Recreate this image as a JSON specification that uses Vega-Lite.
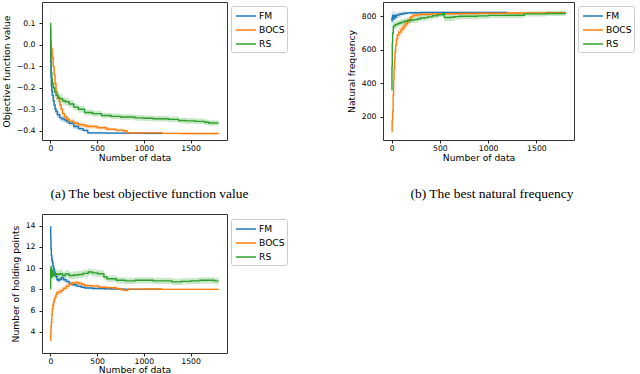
{
  "$schema": "https://vega.github.io/schema/vega-lite/v6.json",
  "background": "white",
  "padding": {"left": 1, "top": 1, "right": 0, "bottom": 0},
  "config": {
    "view": {"stroke": "#333333", "strokeWidth": 1},
    "axis": {"labelFont": "DejaVu Sans", "labelFontSize": 7.7, "titleFont": "DejaVu Sans", "titleFontSize": 9.2, "titleFontWeight": "normal", "labelColor": "black", "titleColor": "black", "tickColor": "#222222", "tickSize": 3, "domain": false, "grid": false},
    "axisX": {"labelPadding": 1, "titlePadding": 2},
    "axisY": {"labelPadding": 4, "titlePadding": 5},
    "legend": {"labelFont": "DejaVu Sans", "labelFontSize": 9.2, "labelColor": "black", "title": null, "orient": "none", "direction": "vertical", "symbolType": "M-1.45,0H1.45", "symbolSize": 188, "symbolStrokeWidth": 1.5, "symbolOpacity": 1, "symbolOffset": 5, "fillColor": "white", "strokeColor": "#cccccc", "cornerRadius": 2, "padding": 2, "rowPadding": 0, "labelOffset": 5}
  },
  "datasets": {
    "a": [
      {"n": 0, "m": "FM", "v": 0.01, "lo": -0.02, "hi": 0.04},
      {"n": 3, "m": "FM", "v": -0.08, "lo": -0.11, "hi": -0.05},
      {"n": 6, "m": "FM", "v": -0.15, "lo": -0.175, "hi": -0.125},
      {"n": 10, "m": "FM", "v": -0.19, "lo": -0.215, "hi": -0.165},
      {"n": 15, "m": "FM", "v": -0.215, "lo": -0.235, "hi": -0.195},
      {"n": 20, "m": "FM", "v": -0.235, "lo": -0.255, "hi": -0.215},
      {"n": 30, "m": "FM", "v": -0.26, "lo": -0.28, "hi": -0.24},
      {"n": 40, "m": "FM", "v": -0.28, "lo": -0.3, "hi": -0.26},
      {"n": 50, "m": "FM", "v": -0.3, "lo": -0.318, "hi": -0.282},
      {"n": 60, "m": "FM", "v": -0.31, "lo": -0.327, "hi": -0.293},
      {"n": 75, "m": "FM", "v": -0.325, "lo": -0.34, "hi": -0.31},
      {"n": 100, "m": "FM", "v": -0.34, "lo": -0.355, "hi": -0.325},
      {"n": 125, "m": "FM", "v": -0.345, "lo": -0.359, "hi": -0.331},
      {"n": 150, "m": "FM", "v": -0.35, "lo": -0.363, "hi": -0.337},
      {"n": 175, "m": "FM", "v": -0.357, "lo": -0.369, "hi": -0.345},
      {"n": 200, "m": "FM", "v": -0.365, "lo": -0.377, "hi": -0.353},
      {"n": 250, "m": "FM", "v": -0.38, "lo": -0.391, "hi": -0.369},
      {"n": 300, "m": "FM", "v": -0.39, "lo": -0.4, "hi": -0.38},
      {"n": 350, "m": "FM", "v": -0.398, "lo": -0.407, "hi": -0.389},
      {"n": 400, "m": "FM", "v": -0.41, "lo": -0.416, "hi": -0.404},
      {"n": 600, "m": "FM", "v": -0.411, "lo": -0.416, "hi": -0.406},
      {"n": 800, "m": "FM", "v": -0.411, "lo": -0.416, "hi": -0.406},
      {"n": 1000, "m": "FM", "v": -0.412, "lo": -0.417, "hi": -0.407},
      {"n": 1200, "m": "FM", "v": -0.412, "lo": -0.417, "hi": -0.407},
      {"n": 0, "m": "BOCS", "v": 0.07, "lo": 0.04, "hi": 0.1},
      {"n": 5, "m": "BOCS", "v": 0.02, "lo": -0.005, "hi": 0.045},
      {"n": 10, "m": "BOCS", "v": -0.02, "lo": -0.045, "hi": 0.005},
      {"n": 20, "m": "BOCS", "v": -0.06, "lo": -0.085, "hi": -0.035},
      {"n": 30, "m": "BOCS", "v": -0.1, "lo": -0.125, "hi": -0.075},
      {"n": 40, "m": "BOCS", "v": -0.14, "lo": -0.162, "hi": -0.118},
      {"n": 50, "m": "BOCS", "v": -0.18, "lo": -0.2, "hi": -0.16},
      {"n": 60, "m": "BOCS", "v": -0.22, "lo": -0.24, "hi": -0.2},
      {"n": 75, "m": "BOCS", "v": -0.25, "lo": -0.268, "hi": -0.232},
      {"n": 100, "m": "BOCS", "v": -0.28, "lo": -0.296, "hi": -0.264},
      {"n": 115, "m": "BOCS", "v": -0.3, "lo": -0.315, "hi": -0.285},
      {"n": 130, "m": "BOCS", "v": -0.32, "lo": -0.334, "hi": -0.306},
      {"n": 150, "m": "BOCS", "v": -0.335, "lo": -0.348, "hi": -0.322},
      {"n": 175, "m": "BOCS", "v": -0.345, "lo": -0.357, "hi": -0.333},
      {"n": 200, "m": "BOCS", "v": -0.355, "lo": -0.366, "hi": -0.344},
      {"n": 250, "m": "BOCS", "v": -0.365, "lo": -0.375, "hi": -0.355},
      {"n": 300, "m": "BOCS", "v": -0.372, "lo": -0.382, "hi": -0.362},
      {"n": 366, "m": "BOCS", "v": -0.378, "lo": -0.387, "hi": -0.369},
      {"n": 400, "m": "BOCS", "v": -0.38, "lo": -0.389, "hi": -0.371},
      {"n": 500, "m": "BOCS", "v": -0.386, "lo": -0.394, "hi": -0.378},
      {"n": 600, "m": "BOCS", "v": -0.393, "lo": -0.4, "hi": -0.386},
      {"n": 700, "m": "BOCS", "v": -0.397, "lo": -0.404, "hi": -0.39},
      {"n": 780, "m": "BOCS", "v": -0.4, "lo": -0.406, "hi": -0.394},
      {"n": 820, "m": "BOCS", "v": -0.409, "lo": -0.414, "hi": -0.404},
      {"n": 900, "m": "BOCS", "v": -0.41, "lo": -0.415, "hi": -0.405},
      {"n": 1000, "m": "BOCS", "v": -0.41, "lo": -0.415, "hi": -0.405},
      {"n": 1200, "m": "BOCS", "v": -0.412, "lo": -0.416, "hi": -0.408},
      {"n": 1400, "m": "BOCS", "v": -0.413, "lo": -0.417, "hi": -0.409},
      {"n": 1800, "m": "BOCS", "v": -0.414, "lo": -0.418, "hi": -0.41},
      {"n": 0, "m": "RS", "v": 0.1, "lo": 0.03, "hi": 0.17},
      {"n": 3, "m": "RS", "v": 0.0, "lo": -0.05, "hi": 0.05},
      {"n": 6, "m": "RS", "v": -0.08, "lo": -0.12, "hi": -0.04},
      {"n": 10, "m": "RS", "v": -0.13, "lo": -0.165, "hi": -0.095},
      {"n": 15, "m": "RS", "v": -0.16, "lo": -0.19, "hi": -0.13},
      {"n": 20, "m": "RS", "v": -0.18, "lo": -0.21, "hi": -0.15},
      {"n": 30, "m": "RS", "v": -0.2, "lo": -0.225, "hi": -0.175},
      {"n": 45, "m": "RS", "v": -0.22, "lo": -0.245, "hi": -0.195},
      {"n": 60, "m": "RS", "v": -0.235, "lo": -0.258, "hi": -0.212},
      {"n": 80, "m": "RS", "v": -0.245, "lo": -0.267, "hi": -0.223},
      {"n": 100, "m": "RS", "v": -0.25, "lo": -0.27, "hi": -0.23},
      {"n": 130, "m": "RS", "v": -0.26, "lo": -0.279, "hi": -0.241},
      {"n": 160, "m": "RS", "v": -0.265, "lo": -0.283, "hi": -0.247},
      {"n": 200, "m": "RS", "v": -0.275, "lo": -0.292, "hi": -0.258},
      {"n": 250, "m": "RS", "v": -0.29, "lo": -0.306, "hi": -0.274},
      {"n": 300, "m": "RS", "v": -0.3, "lo": -0.315, "hi": -0.285},
      {"n": 366, "m": "RS", "v": -0.315, "lo": -0.329, "hi": -0.301},
      {"n": 450, "m": "RS", "v": -0.32, "lo": -0.333, "hi": -0.307},
      {"n": 546, "m": "RS", "v": -0.329, "lo": -0.342, "hi": -0.316},
      {"n": 650, "m": "RS", "v": -0.333, "lo": -0.346, "hi": -0.32},
      {"n": 750, "m": "RS", "v": -0.336, "lo": -0.349, "hi": -0.323},
      {"n": 904, "m": "RS", "v": -0.34, "lo": -0.353, "hi": -0.327},
      {"n": 1000, "m": "RS", "v": -0.342, "lo": -0.355, "hi": -0.329},
      {"n": 1100, "m": "RS", "v": -0.344, "lo": -0.357, "hi": -0.331},
      {"n": 1264, "m": "RS", "v": -0.347, "lo": -0.36, "hi": -0.334},
      {"n": 1371, "m": "RS", "v": -0.352, "lo": -0.365, "hi": -0.339},
      {"n": 1450, "m": "RS", "v": -0.354, "lo": -0.367, "hi": -0.341},
      {"n": 1550, "m": "RS", "v": -0.356, "lo": -0.369, "hi": -0.343},
      {"n": 1650, "m": "RS", "v": -0.36, "lo": -0.373, "hi": -0.347},
      {"n": 1694, "m": "RS", "v": -0.364, "lo": -0.377, "hi": -0.351},
      {"n": 1800, "m": "RS", "v": -0.364, "lo": -0.377, "hi": -0.351}
    ],
    "b": [
      {"n": 0, "m": "FM", "v": 770, "lo": 725, "hi": 815},
      {"n": 3, "m": "FM", "v": 790, "lo": 750, "hi": 830},
      {"n": 6, "m": "FM", "v": 780, "lo": 740, "hi": 820},
      {"n": 10, "m": "FM", "v": 805, "lo": 770, "hi": 840},
      {"n": 15, "m": "FM", "v": 790, "lo": 758, "hi": 822},
      {"n": 20, "m": "FM", "v": 800, "lo": 770, "hi": 830},
      {"n": 25, "m": "FM", "v": 785, "lo": 757, "hi": 813},
      {"n": 30, "m": "FM", "v": 805, "lo": 780, "hi": 830},
      {"n": 40, "m": "FM", "v": 795, "lo": 772, "hi": 818},
      {"n": 50, "m": "FM", "v": 806, "lo": 786, "hi": 826},
      {"n": 60, "m": "FM", "v": 808, "lo": 790, "hi": 826},
      {"n": 80, "m": "FM", "v": 812, "lo": 797, "hi": 827},
      {"n": 100, "m": "FM", "v": 815, "lo": 802, "hi": 828},
      {"n": 130, "m": "FM", "v": 818, "lo": 808, "hi": 828},
      {"n": 160, "m": "FM", "v": 820, "lo": 812, "hi": 828},
      {"n": 200, "m": "FM", "v": 821, "lo": 814, "hi": 828},
      {"n": 300, "m": "FM", "v": 822, "lo": 816, "hi": 828},
      {"n": 600, "m": "FM", "v": 822, "lo": 817, "hi": 827},
      {"n": 900, "m": "FM", "v": 823, "lo": 818, "hi": 828},
      {"n": 1200, "m": "FM", "v": 823, "lo": 818, "hi": 828},
      {"n": 0, "m": "BOCS", "v": 115, "lo": 90, "hi": 140},
      {"n": 5, "m": "BOCS", "v": 180, "lo": 150, "hi": 210},
      {"n": 10, "m": "BOCS", "v": 234, "lo": 200, "hi": 268},
      {"n": 15, "m": "BOCS", "v": 330, "lo": 295, "hi": 365},
      {"n": 20, "m": "BOCS", "v": 420, "lo": 385, "hi": 455},
      {"n": 25, "m": "BOCS", "v": 490, "lo": 455, "hi": 525},
      {"n": 30, "m": "BOCS", "v": 540, "lo": 505, "hi": 575},
      {"n": 35, "m": "BOCS", "v": 590, "lo": 555, "hi": 625},
      {"n": 41, "m": "BOCS", "v": 628, "lo": 595, "hi": 661},
      {"n": 50, "m": "BOCS", "v": 665, "lo": 633, "hi": 697},
      {"n": 59, "m": "BOCS", "v": 688, "lo": 656, "hi": 720},
      {"n": 75, "m": "BOCS", "v": 705, "lo": 673, "hi": 737},
      {"n": 93, "m": "BOCS", "v": 717, "lo": 687, "hi": 747},
      {"n": 110, "m": "BOCS", "v": 730, "lo": 702, "hi": 758},
      {"n": 128, "m": "BOCS", "v": 743, "lo": 717, "hi": 769},
      {"n": 145, "m": "BOCS", "v": 755, "lo": 731, "hi": 779},
      {"n": 162, "m": "BOCS", "v": 766, "lo": 744, "hi": 788},
      {"n": 180, "m": "BOCS", "v": 780, "lo": 760, "hi": 800},
      {"n": 197, "m": "BOCS", "v": 796, "lo": 780, "hi": 812},
      {"n": 215, "m": "BOCS", "v": 802, "lo": 788, "hi": 816},
      {"n": 231, "m": "BOCS", "v": 806, "lo": 794, "hi": 818},
      {"n": 260, "m": "BOCS", "v": 808, "lo": 797, "hi": 819},
      {"n": 300, "m": "BOCS", "v": 812, "lo": 802, "hi": 822},
      {"n": 400, "m": "BOCS", "v": 814, "lo": 805, "hi": 823},
      {"n": 500, "m": "BOCS", "v": 815, "lo": 807, "hi": 823},
      {"n": 600, "m": "BOCS", "v": 815, "lo": 807, "hi": 823},
      {"n": 700, "m": "BOCS", "v": 816, "lo": 808, "hi": 824},
      {"n": 800, "m": "BOCS", "v": 816, "lo": 808, "hi": 824},
      {"n": 900, "m": "BOCS", "v": 818, "lo": 811, "hi": 825},
      {"n": 1000, "m": "BOCS", "v": 818, "lo": 811, "hi": 825},
      {"n": 1200, "m": "BOCS", "v": 819, "lo": 812, "hi": 826},
      {"n": 1400, "m": "BOCS", "v": 820, "lo": 813, "hi": 827},
      {"n": 1600, "m": "BOCS", "v": 821, "lo": 814, "hi": 828},
      {"n": 1800, "m": "BOCS", "v": 822, "lo": 815, "hi": 829},
      {"n": 0, "m": "RS", "v": 362, "lo": 340, "hi": 384},
      {"n": 3, "m": "RS", "v": 500, "lo": 470, "hi": 530},
      {"n": 6, "m": "RS", "v": 640, "lo": 610, "hi": 670},
      {"n": 10, "m": "RS", "v": 700, "lo": 675, "hi": 725},
      {"n": 17, "m": "RS", "v": 737, "lo": 715, "hi": 759},
      {"n": 25, "m": "RS", "v": 745, "lo": 724, "hi": 766},
      {"n": 40, "m": "RS", "v": 750, "lo": 730, "hi": 770},
      {"n": 60, "m": "RS", "v": 755, "lo": 736, "hi": 774},
      {"n": 76, "m": "RS", "v": 760, "lo": 741, "hi": 779},
      {"n": 100, "m": "RS", "v": 765, "lo": 747, "hi": 783},
      {"n": 131, "m": "RS", "v": 770, "lo": 752, "hi": 788},
      {"n": 162, "m": "RS", "v": 775, "lo": 757, "hi": 793},
      {"n": 200, "m": "RS", "v": 778, "lo": 760, "hi": 796},
      {"n": 231, "m": "RS", "v": 780, "lo": 762, "hi": 798},
      {"n": 270, "m": "RS", "v": 785, "lo": 768, "hi": 802},
      {"n": 300, "m": "RS", "v": 790, "lo": 773, "hi": 807},
      {"n": 340, "m": "RS", "v": 792, "lo": 775, "hi": 809},
      {"n": 373, "m": "RS", "v": 796, "lo": 780, "hi": 812},
      {"n": 420, "m": "RS", "v": 803, "lo": 787, "hi": 819},
      {"n": 477, "m": "RS", "v": 809, "lo": 794, "hi": 824},
      {"n": 529, "m": "RS", "v": 815, "lo": 800, "hi": 830},
      {"n": 546, "m": "RS", "v": 793, "lo": 770, "hi": 816},
      {"n": 612, "m": "RS", "v": 794, "lo": 772, "hi": 816},
      {"n": 650, "m": "RS", "v": 798, "lo": 779, "hi": 817},
      {"n": 700, "m": "RS", "v": 800, "lo": 782, "hi": 818},
      {"n": 891, "m": "RS", "v": 802, "lo": 785, "hi": 819},
      {"n": 1000, "m": "RS", "v": 805, "lo": 789, "hi": 821},
      {"n": 1200, "m": "RS", "v": 806, "lo": 790, "hi": 822},
      {"n": 1375, "m": "RS", "v": 814, "lo": 799, "hi": 829},
      {"n": 1600, "m": "RS", "v": 816, "lo": 801, "hi": 831},
      {"n": 1800, "m": "RS", "v": 820, "lo": 805, "hi": 835}
    ],
    "c": [
      {"n": 0, "m": "FM", "v": 13.9, "lo": 13.3, "hi": 14.5},
      {"n": 3, "m": "FM", "v": 12.8, "lo": 12.2, "hi": 13.4},
      {"n": 6, "m": "FM", "v": 11.8, "lo": 11.25, "hi": 12.35},
      {"n": 10, "m": "FM", "v": 11.2, "lo": 10.7, "hi": 11.7},
      {"n": 15, "m": "FM", "v": 10.8, "lo": 10.35, "hi": 11.25},
      {"n": 20, "m": "FM", "v": 10.6, "lo": 10.15, "hi": 11.05},
      {"n": 27, "m": "FM", "v": 10.2, "lo": 9.8, "hi": 10.6},
      {"n": 34, "m": "FM", "v": 9.94, "lo": 9.56, "hi": 10.32},
      {"n": 42, "m": "FM", "v": 9.6, "lo": 9.25, "hi": 9.95},
      {"n": 50, "m": "FM", "v": 9.47, "lo": 9.14, "hi": 9.8},
      {"n": 60, "m": "FM", "v": 9.2, "lo": 8.9, "hi": 9.5},
      {"n": 70, "m": "FM", "v": 8.9, "lo": 8.62, "hi": 9.18},
      {"n": 84, "m": "FM", "v": 8.85, "lo": 8.58, "hi": 9.12},
      {"n": 100, "m": "FM", "v": 8.95, "lo": 8.7, "hi": 9.2},
      {"n": 118, "m": "FM", "v": 9.1, "lo": 8.86, "hi": 9.34},
      {"n": 140, "m": "FM", "v": 8.9, "lo": 8.68, "hi": 9.12},
      {"n": 168, "m": "FM", "v": 8.75, "lo": 8.55, "hi": 8.95},
      {"n": 200, "m": "FM", "v": 8.55, "lo": 8.37, "hi": 8.73},
      {"n": 235, "m": "FM", "v": 8.43, "lo": 8.26, "hi": 8.6},
      {"n": 280, "m": "FM", "v": 8.3, "lo": 8.15, "hi": 8.45},
      {"n": 330, "m": "FM", "v": 8.2, "lo": 8.07, "hi": 8.33},
      {"n": 370, "m": "FM", "v": 8.12, "lo": 8.0, "hi": 8.24},
      {"n": 450, "m": "FM", "v": 8.08, "lo": 7.98, "hi": 8.18},
      {"n": 572, "m": "FM", "v": 8.05, "lo": 7.96, "hi": 8.14},
      {"n": 650, "m": "FM", "v": 8.02, "lo": 7.94, "hi": 8.1},
      {"n": 800, "m": "FM", "v": 8.0, "lo": 7.93, "hi": 8.07},
      {"n": 1000, "m": "FM", "v": 8.0, "lo": 7.94, "hi": 8.06},
      {"n": 1200, "m": "FM", "v": 8.0, "lo": 7.94, "hi": 8.06},
      {"n": 0, "m": "BOCS", "v": 3.19, "lo": 2.7, "hi": 3.7},
      {"n": 3, "m": "BOCS", "v": 3.8, "lo": 3.3, "hi": 4.3},
      {"n": 6, "m": "BOCS", "v": 4.4, "lo": 3.9, "hi": 4.9},
      {"n": 10, "m": "BOCS", "v": 4.9, "lo": 4.4, "hi": 5.4},
      {"n": 15, "m": "BOCS", "v": 5.6, "lo": 5.1, "hi": 6.1},
      {"n": 20, "m": "BOCS", "v": 6.17, "lo": 5.7, "hi": 6.64},
      {"n": 27, "m": "BOCS", "v": 6.5, "lo": 6.05, "hi": 6.95},
      {"n": 34, "m": "BOCS", "v": 6.8, "lo": 6.38, "hi": 7.22},
      {"n": 42, "m": "BOCS", "v": 7.1, "lo": 6.7, "hi": 7.5},
      {"n": 50, "m": "BOCS", "v": 7.27, "lo": 6.9, "hi": 7.64},
      {"n": 60, "m": "BOCS", "v": 7.5, "lo": 7.15, "hi": 7.85},
      {"n": 70, "m": "BOCS", "v": 7.7, "lo": 7.37, "hi": 8.03},
      {"n": 84, "m": "BOCS", "v": 7.74, "lo": 7.43, "hi": 8.05},
      {"n": 100, "m": "BOCS", "v": 7.8, "lo": 7.5, "hi": 8.1},
      {"n": 118, "m": "BOCS", "v": 7.9, "lo": 7.62, "hi": 8.18},
      {"n": 140, "m": "BOCS", "v": 8.1, "lo": 7.84, "hi": 8.36},
      {"n": 168, "m": "BOCS", "v": 8.3, "lo": 8.06, "hi": 8.54},
      {"n": 200, "m": "BOCS", "v": 8.5, "lo": 8.28, "hi": 8.72},
      {"n": 235, "m": "BOCS", "v": 8.6, "lo": 8.4, "hi": 8.8},
      {"n": 270, "m": "BOCS", "v": 8.65, "lo": 8.46, "hi": 8.84},
      {"n": 300, "m": "BOCS", "v": 8.55, "lo": 8.37, "hi": 8.73},
      {"n": 340, "m": "BOCS", "v": 8.45, "lo": 8.28, "hi": 8.62},
      {"n": 370, "m": "BOCS", "v": 8.35, "lo": 8.19, "hi": 8.51},
      {"n": 450, "m": "BOCS", "v": 8.3, "lo": 8.15, "hi": 8.45},
      {"n": 520, "m": "BOCS", "v": 8.2, "lo": 8.06, "hi": 8.34},
      {"n": 600, "m": "BOCS", "v": 8.15, "lo": 8.02, "hi": 8.28},
      {"n": 706, "m": "BOCS", "v": 8.05, "lo": 7.93, "hi": 8.17},
      {"n": 760, "m": "BOCS", "v": 7.95, "lo": 7.83, "hi": 8.07},
      {"n": 800, "m": "BOCS", "v": 7.9, "lo": 7.78, "hi": 8.02},
      {"n": 830, "m": "BOCS", "v": 8.02, "lo": 7.93, "hi": 8.11},
      {"n": 1000, "m": "BOCS", "v": 8.03, "lo": 7.95, "hi": 8.11},
      {"n": 1180, "m": "BOCS", "v": 8.0, "lo": 7.93, "hi": 8.07},
      {"n": 1500, "m": "BOCS", "v": 8.0, "lo": 7.93, "hi": 8.07},
      {"n": 1800, "m": "BOCS", "v": 8.0, "lo": 7.93, "hi": 8.07},
      {"n": 0, "m": "RS", "v": 8.06, "lo": 7.2, "hi": 8.9},
      {"n": 3, "m": "RS", "v": 9.9, "lo": 9.2, "hi": 10.6},
      {"n": 6, "m": "RS", "v": 10.1, "lo": 9.45, "hi": 10.75},
      {"n": 10, "m": "RS", "v": 9.6, "lo": 9.0, "hi": 10.2},
      {"n": 15, "m": "RS", "v": 9.16, "lo": 8.6, "hi": 9.72},
      {"n": 20, "m": "RS", "v": 9.8, "lo": 9.3, "hi": 10.3},
      {"n": 27, "m": "RS", "v": 9.4, "lo": 8.92, "hi": 9.88},
      {"n": 34, "m": "RS", "v": 9.3, "lo": 8.85, "hi": 9.75},
      {"n": 50, "m": "RS", "v": 9.47, "lo": 9.05, "hi": 9.89},
      {"n": 70, "m": "RS", "v": 9.4, "lo": 9.0, "hi": 9.8},
      {"n": 100, "m": "RS", "v": 9.47, "lo": 9.08, "hi": 9.86},
      {"n": 130, "m": "RS", "v": 9.3, "lo": 8.93, "hi": 9.67},
      {"n": 160, "m": "RS", "v": 9.45, "lo": 9.09, "hi": 9.81},
      {"n": 200, "m": "RS", "v": 9.3, "lo": 8.95, "hi": 9.65},
      {"n": 250, "m": "RS", "v": 9.35, "lo": 9.0, "hi": 9.7},
      {"n": 300, "m": "RS", "v": 9.4, "lo": 9.06, "hi": 9.74},
      {"n": 350, "m": "RS", "v": 9.5, "lo": 9.16, "hi": 9.84},
      {"n": 404, "m": "RS", "v": 9.63, "lo": 9.3, "hi": 9.96},
      {"n": 450, "m": "RS", "v": 9.55, "lo": 9.22, "hi": 9.88},
      {"n": 504, "m": "RS", "v": 9.47, "lo": 9.15, "hi": 9.79},
      {"n": 572, "m": "RS", "v": 9.16, "lo": 8.85, "hi": 9.47},
      {"n": 605, "m": "RS", "v": 9.0, "lo": 8.7, "hi": 9.3},
      {"n": 706, "m": "RS", "v": 8.85, "lo": 8.55, "hi": 9.15},
      {"n": 800, "m": "RS", "v": 8.8, "lo": 8.5, "hi": 9.1},
      {"n": 908, "m": "RS", "v": 8.85, "lo": 8.55, "hi": 9.15},
      {"n": 1000, "m": "RS", "v": 8.85, "lo": 8.55, "hi": 9.15},
      {"n": 1100, "m": "RS", "v": 8.8, "lo": 8.5, "hi": 9.1},
      {"n": 1200, "m": "RS", "v": 8.8, "lo": 8.5, "hi": 9.1},
      {"n": 1300, "m": "RS", "v": 8.7, "lo": 8.4, "hi": 9.0},
      {"n": 1400, "m": "RS", "v": 8.75, "lo": 8.45, "hi": 9.05},
      {"n": 1500, "m": "RS", "v": 8.8, "lo": 8.5, "hi": 9.1},
      {"n": 1600, "m": "RS", "v": 8.85, "lo": 8.55, "hi": 9.15},
      {"n": 1700, "m": "RS", "v": 8.85, "lo": 8.55, "hi": 9.15},
      {"n": 1750, "m": "RS", "v": 8.8, "lo": 8.5, "hi": 9.1},
      {"n": 1800, "m": "RS", "v": 8.8, "lo": 8.5, "hi": 9.1}
    ]
  },
  "spacing": 12,
  "resolve": {"scale": {"x": "independent", "y": "independent", "color": "independent"}, "legend": {"color": "independent"}},
  "vconcat": [
    {
      "spacing": 58,
      "resolve": {"scale": {"x": "independent", "y": "independent", "color": "independent"}, "legend": {"color": "independent"}},
      "hconcat": [
        {
          "width": 185, "height": 138,
          "data": {"name": "a"},
          "title": {"text": "(a) The best objective function value", "orient": "bottom", "anchor": "middle", "font": "Liberation Serif", "fontSize": 13.5, "fontWeight": "normal", "color": "black", "offset": 24, "dx": 15},
          "encoding": {
            "x": {"field": "n", "type": "quantitative", "scale": {"domain": [-90, 1890], "nice": false, "zero": false}, "axis": {"title": "Number of data", "values": [0, 500, 1000, 1500], "format": "d"}},
            "color": {"field": "m", "type": "nominal", "scale": {"domain": ["FM", "BOCS", "RS"], "range": ["#1f77b4", "#ff7f0e", "#2ca02c"]},
              "legend": {"legendX": 189, "legendY": 4}}
          },
          "layer": [
            {"mark": {"type": "area", "interpolate": "step-after", "opacity": 0.25},
             "encoding": {
               "y": {"field": "lo", "type": "quantitative", "scale": {"domain": [-0.443, 0.2], "nice": false, "zero": false}, "axis": {"title": "Objective function value", "values": [-0.4, -0.3, -0.2, -0.1, 0, 0.1], "format": ".1f"}},
               "y2": {"field": "hi"}}},
            {"mark": {"type": "line", "interpolate": "step-after", "strokeWidth": 1.4},
             "encoding": {
               "y": {"field": "v", "type": "quantitative", "scale": {"domain": [-0.443, 0.2], "nice": false, "zero": false}, "axis": {"title": "Objective function value", "values": [-0.4, -0.3, -0.2, -0.1, 0, 0.1], "format": ".1f"}}}}
          ]
        },
        {
          "width": 191, "height": 138,
          "data": {"name": "b"},
          "title": {"text": "(b) The best natural frequency", "orient": "bottom", "anchor": "middle", "font": "Liberation Serif", "fontSize": 13.5, "fontWeight": "normal", "color": "black", "offset": 24, "dx": 13.5},
          "encoding": {
            "x": {"field": "n", "type": "quantitative", "scale": {"domain": [-90, 1890], "nice": false, "zero": false}, "axis": {"title": "Number of data", "values": [0, 500, 1000, 1500], "format": "d"}},
            "color": {"field": "m", "type": "nominal", "scale": {"domain": ["FM", "BOCS", "RS"], "range": ["#1f77b4", "#ff7f0e", "#2ca02c"]},
              "legend": {"legendX": 195, "legendY": 4}}
          },
          "layer": [
            {"mark": {"type": "area", "interpolate": "step-after", "opacity": 0.25},
             "encoding": {
               "y": {"field": "lo", "type": "quantitative", "scale": {"domain": [62, 885], "nice": false, "zero": false}, "axis": {"title": "Natural frequency", "values": [200, 400, 600, 800]}},
               "y2": {"field": "hi"}}},
            {"mark": {"type": "line", "interpolate": "step-after", "strokeWidth": 1.4},
             "encoding": {
               "y": {"field": "v", "type": "quantitative", "scale": {"domain": [62, 885], "nice": false, "zero": false}, "axis": {"title": "Natural frequency", "values": [200, 400, 600, 800]}}}}
          ]
        }
      ]
    },
    {
      "width": 185, "height": 139,
      "data": {"name": "c"},
      "encoding": {
        "x": {"field": "n", "type": "quantitative", "scale": {"domain": [-90, 1890], "nice": false, "zero": false}, "axis": {"title": "Number of data", "values": [0, 500, 1000, 1500], "format": "d", "labelPadding": 1, "titlePadding": 1}},
        "color": {"field": "m", "type": "nominal", "scale": {"domain": ["FM", "BOCS", "RS"], "range": ["#1f77b4", "#ff7f0e", "#2ca02c"]},
          "legend": {"legendX": 189, "legendY": 5}}
      },
      "layer": [
        {"mark": {"type": "area", "interpolate": "step-after", "opacity": 0.25},
         "encoding": {
           "y": {"field": "lo", "type": "quantitative", "scale": {"domain": [2.0, 15.1], "nice": false, "zero": false}, "axis": {"title": "Number of holding points", "values": [4, 6, 8, 10, 12, 14]}},
           "y2": {"field": "hi"}}},
        {"mark": {"type": "line", "interpolate": "step-after", "strokeWidth": 1.4},
         "encoding": {
           "y": {"field": "v", "type": "quantitative", "scale": {"domain": [2.0, 15.1], "nice": false, "zero": false}, "axis": {"title": "Number of holding points", "values": [4, 6, 8, 10, 12, 14]}}}}
      ]
    }
  ]
}
